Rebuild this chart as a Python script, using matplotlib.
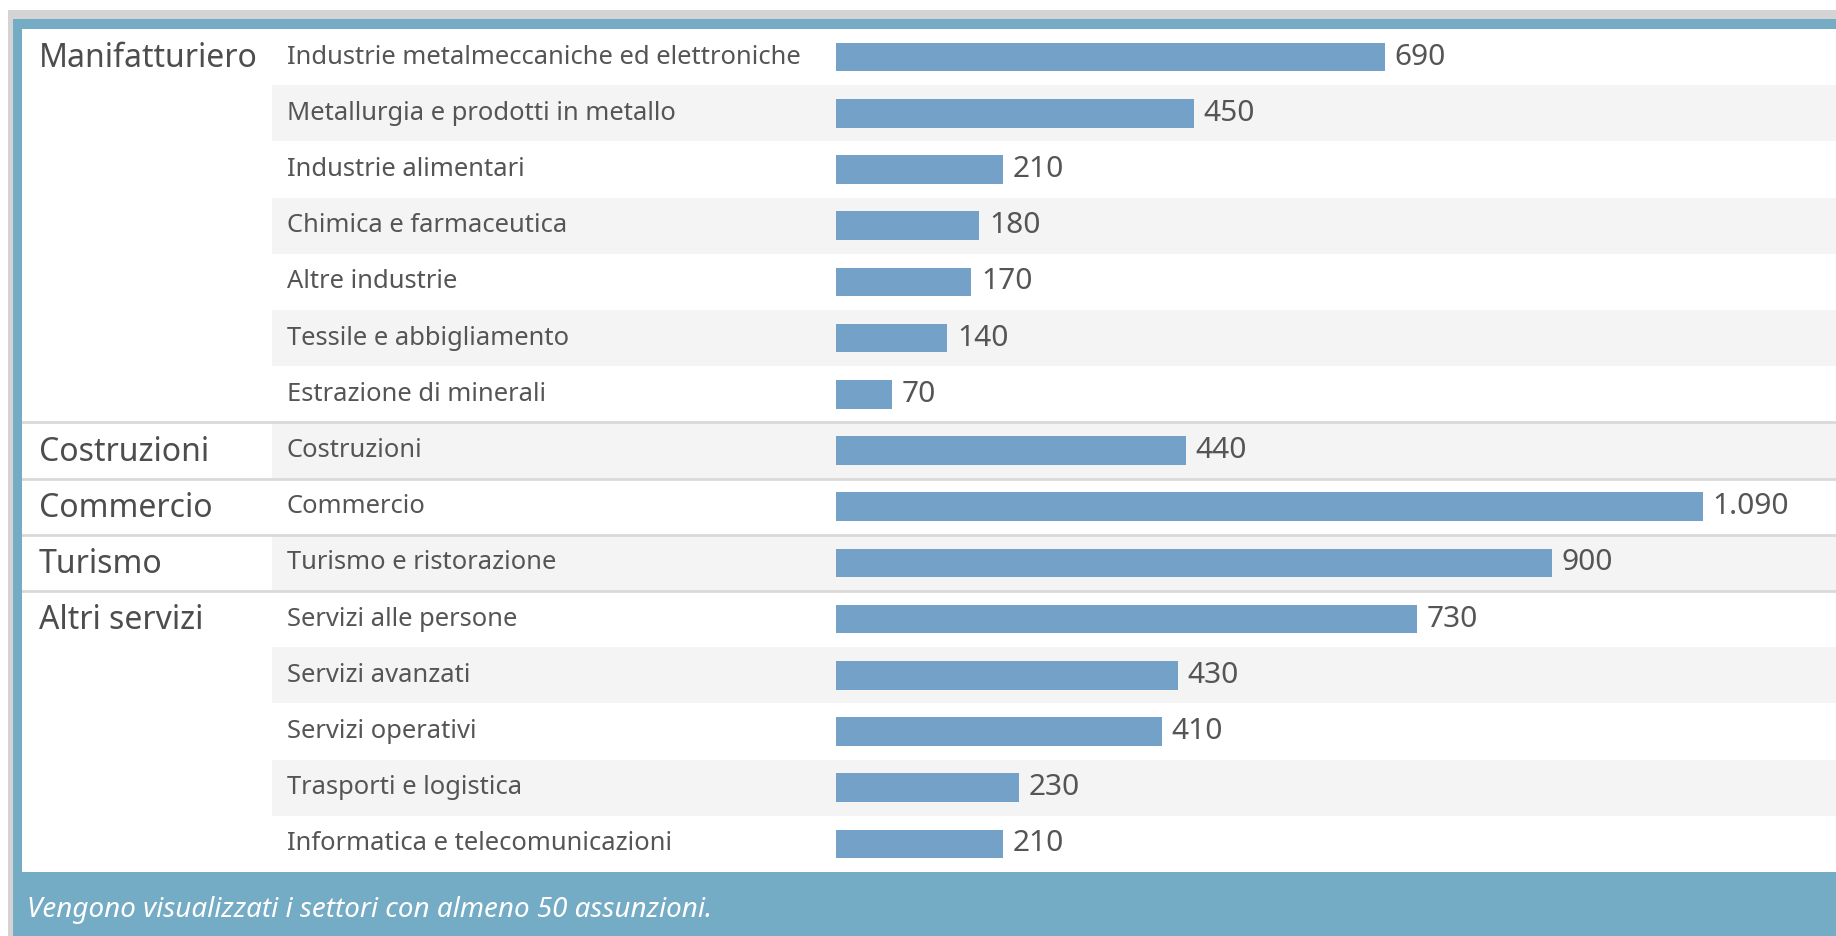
import matplotlib.pyplot as plt
import matplotlib.transforms as mtransforms
from matplotlib.patches import Rectangle

# --- data -------------------------------------------------------------
groups = ["Manifatturiero", "Costruzioni", "Commercio", "Turismo", "Altri servizi"]
group_sizes = [7, 1, 1, 1, 5]
sectors = [
    "Industrie metalmeccaniche ed elettroniche",
    "Metallurgia e prodotti in metallo",
    "Industrie alimentari",
    "Chimica e farmaceutica",
    "Altre industrie",
    "Tessile e abbigliamento",
    "Estrazione di minerali",
    "Costruzioni",
    "Commercio",
    "Turismo e ristorazione",
    "Servizi alle persone",
    "Servizi avanzati",
    "Servizi operativi",
    "Trasporti e logistica",
    "Informatica e telecomunicazioni",
]
hires = [690, 450, 210, 180, 170, 140, 70, 440, 1090, 900, 730, 430, 410, 230, 210]
footnote = "Vengono visualizzati i settori con almeno 50 assunzioni."

# --- look -------------------------------------------------------------
W, H = 1836, 936
BAR = "#74a1c8"
BAND = "#f4f4f4"
FRAME_BLUE = "#75acc5"
FRAME_GRAY = "#d4d4d4"
SEP = "#d9d9d9"
TEXT = "#555555"

plt.rcParams["font.family"] = ["Noto Sans", "DejaVu Sans"]

fig = plt.figure(figsize=(W / 100, H / 100), dpi=100)
fig.patch.set_facecolor("white")


def px(x, y):
    """pixel (from top-left) -> figure fraction"""
    return x / W, 1 - y / H


def fig_rect(x0, y0, x1, y1, color):
    fig.add_artist(Rectangle(px(x0, y1), (x1 - x0) / W, (y1 - y0) / H,
                             transform=fig.transFigure, facecolor=color,
                             edgecolor="none", zorder=0))


# outer frame: gray edge, blue band + footer, white table area
left, top, bottom = 22, 29, 872
fig_rect(8, 10, W, H, FRAME_GRAY)
fig_rect(13, 19, W, H, FRAME_BLUE)
fig_rect(left, top, W, bottom, "white")

ax = fig.add_axes([left / W, 1 - bottom / H, (W - left) / W, (bottom - top) / H])

# value axis: 0 at x=836px, 0.7954 px per unit
x0_px, scale = 836, 0.7954
ax.set_xlim(-(x0_px - left) / scale, (W - x0_px) / scale)
n = len(sectors)
ax.set_ylim(n - 0.5, -0.5)
ax.axis("off")

# row banding for sub-label + bar area
band_xmin = (272 - left) / (W - left)
for i in range(n):
    if i % 2 == 1:
        ax.axhspan(i - 0.5, i + 0.5, xmin=band_xmin, xmax=1, facecolor=BAND,
                   edgecolor="none", zorder=0)

# group separators
start = 0
for size in group_sizes[:-1]:
    start += size
    ax.axhline(start - 0.5, color=SEP, lw=2, zorder=1)

bars = ax.barh(range(n), hires, height=0.51, color=BAR, zorder=2)
ax.bar_label(bars, labels=[f"{v:,}".replace(",", ".") for v in hires], padding=7,
             fontsize=21.5, color=TEXT)

trans = mtransforms.blended_transform_factory(fig.transFigure, ax.transData)
for i, name in enumerate(sectors):
    ax.text(287 / W, i, name, transform=trans, ha="left", va="center",
            fontsize=18.4, color=TEXT)

start = 0
for g, size in zip(groups, group_sizes):
    ax.text(39 / W, start + 0.03, g, transform=trans, ha="left", va="center",
            fontsize=23, color="#4d4d4d")
    start += size

fig.text(*px(27, 917), footnote, ha="left", va="baseline", fontsize=20,
         style="italic", color="white")

fig.savefig("out.png", dpi=100)
